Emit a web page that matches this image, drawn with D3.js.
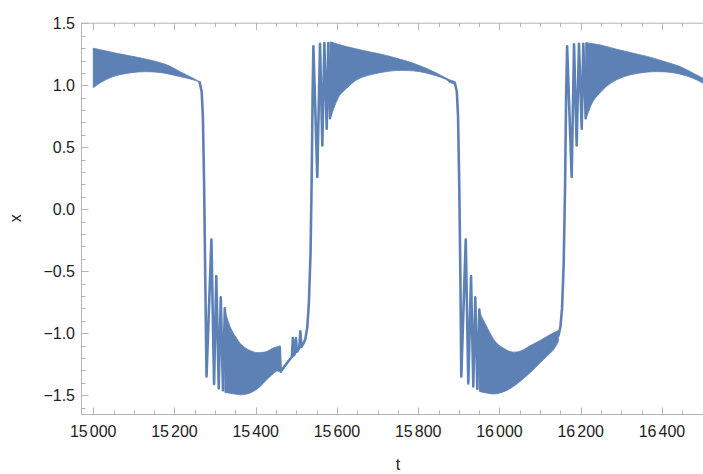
<!DOCTYPE html>
<html>
<head>
<meta charset="utf-8">
<script src="https://cdn.jsdelivr.net/npm/d3@7"></script>
<style>
  html, body { margin: 0; padding: 0; background: #fff; }
  svg { display: block; }
</style>
</head>
<body>
<svg id="chart" width="703" height="474"></svg>
<script>
// ---- axis ticks -------------------------------------------------------
const xMajorTicks = [15000, 15200, 15400, 15600, 15800, 16000, 16200, 16400];
const xTickLabels = ["15 000", "15 200", "15 400", "15 600", "15 800", "16 000", "16 200", "16 400"];
const xMinorTicks = [15050, 15100, 15150, 15250, 15300, 15350, 15450, 15500, 15550,
                     15650, 15700, 15750, 15850, 15900, 15950, 16050, 16100, 16150,
                     16250, 16300, 16350, 16450, 16500];
const yMajorTicks = [-1.5, -1.0, -0.5, 0.0, 0.5, 1.0, 1.5];
const yTickLabels = ["\u22121.5", "\u22121.0", "\u22120.5", "0.0", "0.5", "1.0", "1.5"];
const yMinorTicks = [-1.6, -1.4, -1.3, -1.2, -1.1, -0.9, -0.8, -0.7, -0.6, -0.4, -0.3, -0.2, -0.1,
                     0.1, 0.2, 0.3, 0.4, 0.6, 0.7, 0.8, 0.9, 1.1, 1.2, 1.3, 1.4];

// ---- x(t): envelopes of the fast oscillation on each plateau, [t, x] ----
const highA_top = [[15000, 1.30], [15049, 1.264], [15131, 1.21], [15181, 1.165], [15214, 1.11],
                   [15246, 1.057], [15262, 1.03]];
const highA_bot = [[15000, 0.98], [15016, 1.017], [15049, 1.07], [15090, 1.10], [15131, 1.11],
                   [15172, 1.10], [15213, 1.07], [15246, 1.044], [15262, 1.025]];

const lowA_top = [[15324, -0.80], [15328.6, -0.865], [15336.8, -0.946], [15345, -1.0], [15353, -1.04],
                  [15361, -1.08], [15370, -1.107], [15382, -1.134], [15402, -1.156], [15427, -1.148],
                  [15443, -1.12], [15456, -1.107]];
const lowA_bot = [[15324, -1.478], [15345, -1.489], [15361, -1.497], [15378, -1.491], [15394, -1.47],
                  [15411, -1.43], [15427, -1.376], [15443, -1.327], [15456, -1.295]];

const highB_top = [[15583, 1.35], [15624, 1.312], [15665, 1.28], [15706, 1.253], [15747, 1.218],
                   [15788, 1.178], [15829, 1.124], [15870, 1.057], [15878, 1.044], [15890, 1.03]];
const highB_bot = [[15583, 0.73], [15587, 0.761], [15591, 0.802], [15599, 0.869], [15607.5, 0.923],
                   [15624, 0.977], [15649, 1.044], [15673, 1.076], [15706, 1.102], [15747, 1.119],
                   [15772, 1.119], [15804, 1.11], [15837, 1.084], [15870, 1.044], [15878, 1.022],
                   [15890, 1.01]];

const lowB_top = [[15950.4, -0.81], [15956, -0.865], [15968.6, -0.946], [15977, -1.0], [15993, -1.08],
                  [16009.5, -1.12], [16026, -1.148], [16042, -1.152], [16059, -1.134], [16075, -1.102],
                  [16100, -1.059], [16124, -1.013], [16145, -0.978]];
const lowB_bot = [[15950.4, -1.47], [15968.6, -1.483], [15985, -1.491], [16001, -1.483], [16018, -1.462],
                  [16034, -1.43], [16050.6, -1.389], [16067, -1.344], [16083, -1.295], [16100, -1.241],
                  [16116, -1.188], [16133, -1.134], [16145, -1.067]];

const highC_top = [[16212, 1.344], [16247.5, 1.326], [16288.6, 1.291], [16329.5, 1.259], [16370.6, 1.227],
                   [16411.6, 1.186], [16444.4, 1.151], [16477, 1.098], [16500, 1.06]];
const highC_bot = [[16212, 0.727], [16218, 0.775], [16230, 0.869], [16243, 0.923], [16263, 0.99],
                   [16288, 1.044], [16321, 1.084], [16362, 1.106], [16394.5, 1.11], [16427, 1.102],
                   [16460, 1.076], [16485, 1.044], [16500, 1.017]];

// ---- x(t): switching jumps and the first resolved swings after each ----
const dropA = [[15262, 1.025], [15267, 0.95], [15270, 0.75], [15273, 0.2], [15276, -0.6], [15279, -1.35],
               [15291, -0.245], [15297.5, -1.41], [15303, -0.54], [15309, -1.445], [15314, -0.71],
               [15319.5, -1.46], [15324, -0.80], [15328, -1.47]];
const riseA = [[15456, -1.30], [15459, -1.11], [15461.5, -1.31], [15476, -1.245], [15489, -1.19],
               [15491.5, -1.04], [15494, -1.18], [15497, -1.16], [15499, -1.04], [15501.5, -1.15],
               [15507, -1.12], [15510, -0.985], [15512.5, -1.11], [15518, -1.08], [15522, -1.05],
               [15527, -0.95], [15531, -0.75], [15535, -0.35], [15538, 0.3], [15540, 0.9], [15542, 1.315],
               [15551.6, 0.26], [15558.3, 1.335], [15564, 0.515], [15569, 1.34], [15574.8, 0.65],
               [15578.7, 1.34], [15583, 0.735], [15587, 1.34]];
const dropB = [[15890, 1.02], [15895, 0.95], [15898, 0.75], [15901, 0.2], [15904, -0.6], [15906, -1.35],
               [15917, -0.245], [15923.3, -1.405], [15930, -0.54], [15935.6, -1.43], [15940.5, -0.71],
               [15945.5, -1.45], [15950.4, -0.81], [15954, -1.46]];
const riseB = [[16145, -1.02], [16150, -0.95], [16154, -0.8], [16158, -0.45], [16161.5, 0.2],
               [16164, 0.9], [16166.5, 1.315], [16177.7, 0.26], [16183.5, 1.33], [16190, 0.515],
               [16195.7, 1.335], [16202.4, 0.65], [16206.3, 1.335], [16212.2, 0.735], [16216, 1.335]];

const bands = [[highA_top, highA_bot], [lowA_top, lowA_bot], [highB_top, highB_bot],
               [lowB_top, lowB_bot], [highC_top, highC_bot]];
const strokes = [dropA, riseA, dropB, riseB];

// ---- layout ------------------------------------------------------------
const plot = { left: 81, right: 714.8, top: 22.7, bottom: 414 };
const lineColor = "#5e81b5";
const frameColor = "#b4b4b4";
const textColor = "#222";
const fontFamily = "'Liberation Sans', Arial, Helvetica, sans-serif";

const svg = d3.select("#chart");
const x = d3.scaleLinear().domain([14970, 16530]).range([plot.left, plot.right]);
const y = d3.scaleLinear().domain([-1.652, 1.505]).range([plot.bottom, plot.top]);

// frame
const fr = svg.append("g").attr("stroke", frameColor).attr("stroke-width", 1).attr("fill", "none");
fr.append("rect")
  .attr("x", plot.left + 0.5).attr("y", plot.top + 0.5)
  .attr("width", plot.right - plot.left).attr("height", plot.bottom - plot.top);

// ticks: bottom/top point inward, left points inward
function tickX(values, len) {
  values.forEach(v => {
    const px = Math.round(x(v)) + 0.5;
    fr.append("line").attr("x1", px).attr("x2", px)
      .attr("y1", plot.bottom + 0.5).attr("y2", plot.bottom + 0.5 - len);
    fr.append("line").attr("x1", px).attr("x2", px)
      .attr("y1", plot.top + 0.5).attr("y2", plot.top + 0.5 + len);
  });
}
function tickY(values, len) {
  values.forEach(v => {
    const py = Math.round(y(v)) + 0.5;
    fr.append("line").attr("y1", py).attr("y2", py)
      .attr("x1", plot.left + 0.5).attr("x2", plot.left + 0.5 + len);
  });
}
tickX(xMajorTicks, 7);
tickX(xMinorTicks, 4);
tickY(yMajorTicks, 7);
tickY(yMinorTicks, 4);

// tick labels
const lab = svg.append("g").attr("fill", textColor)
  .style("font-family", fontFamily).style("font-size", "16px");
xMajorTicks.forEach((v, i) => {
  const parts = xTickLabels[i].split(" ");
  const t = lab.append("text").attr("x", x(v)).attr("y", 437).attr("text-anchor", "middle");
  t.append("tspan").text(parts[0]);
  t.append("tspan").attr("dx", 2).text(parts[1]);
});
yMajorTicks.forEach((v, i) => {
  lab.append("text").attr("x", 75).attr("y", y(v) + 5.7)
    .attr("text-anchor", "end").text(yTickLabels[i]);
});

// frame labels
lab.append("text").attr("x", (plot.left + plot.right) / 2).attr("y", 470)
  .attr("text-anchor", "middle").text("t");
lab.append("text")
  .attr("transform", `translate(20.5,${(plot.top + plot.bottom) / 2}) rotate(-90)`)
  .attr("text-anchor", "middle").text("x");

// data
const data = svg.append("g");
const edge = d3.line().x(d => x(d[0])).y(d => y(d[1])).curve(d3.curveCatmullRom.alpha(0.5));
bands.forEach(([top, bot]) => {
  const a = edge(top);
  const b = edge(bot.slice().reverse());
  data.append("path")
    .attr("d", a + "L" + b.slice(1) + "Z")
    .attr("fill", lineColor)
    .attr("stroke", lineColor).attr("stroke-width", 0.8).attr("stroke-linejoin", "round");
});
const trace = d3.line().x(d => x(d[0])).y(d => y(d[1]));
strokes.forEach(s => {
  data.append("path")
    .attr("d", trace(s))
    .attr("fill", "none")
    .attr("stroke", lineColor).attr("stroke-width", 2.6)
    .attr("stroke-linejoin", "round").attr("stroke-linecap", "round");
});
</script>
</body>
</html>
